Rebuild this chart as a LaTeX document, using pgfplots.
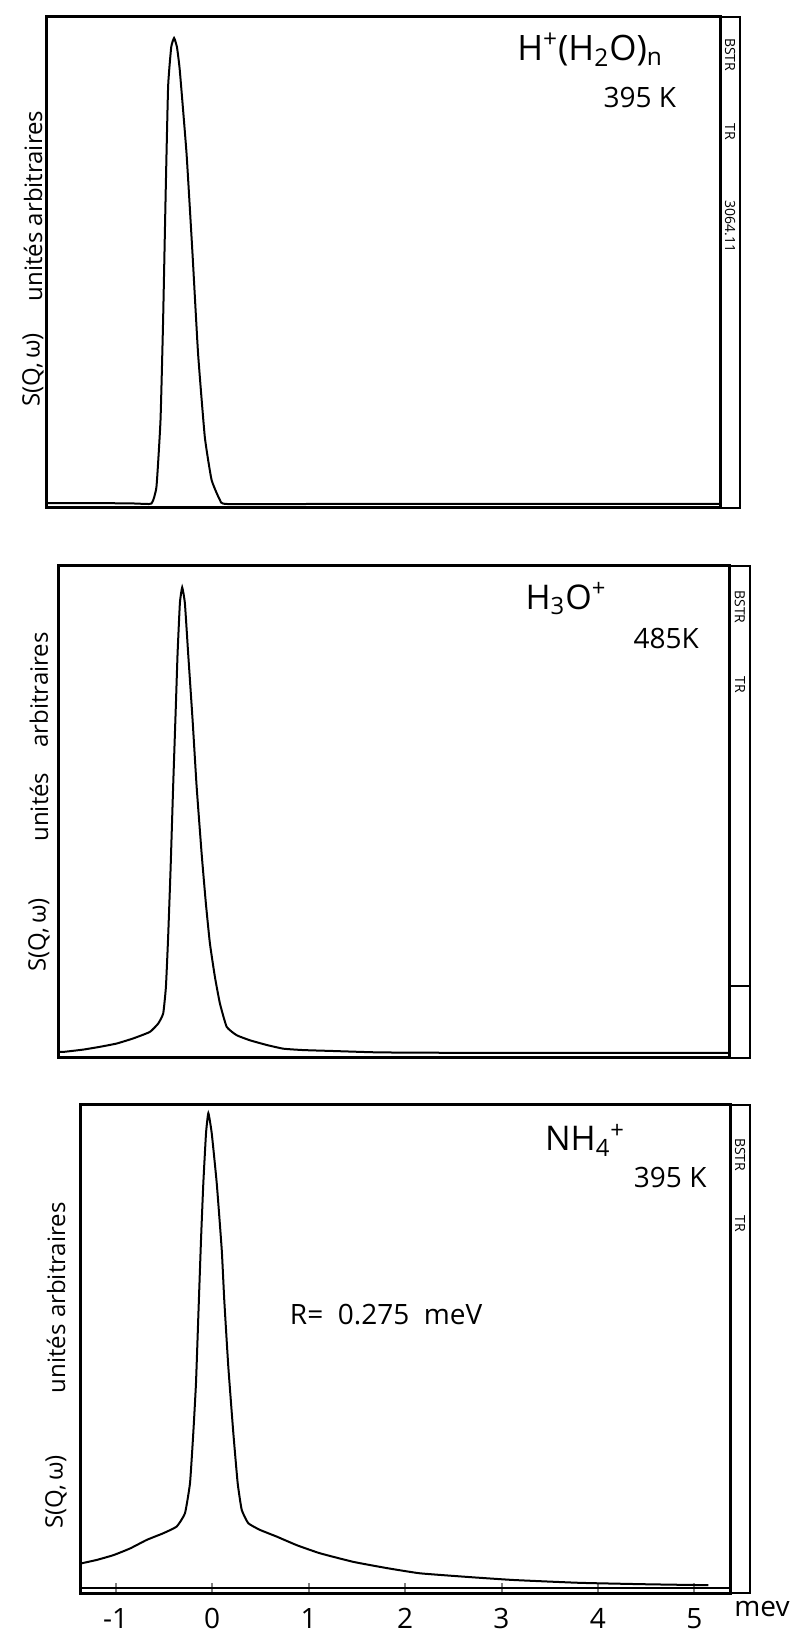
\documentclass[border=0pt]{standalone}
\usepackage{fontspec}
\setmainfont{Open Sans}
\usepackage{pgfplots}
\pgfplotsset{compat=1.18}

% 1 px of the scan = 0.5pt
\pgfplotsset{
  panel/.style={
    scale only axis, anchor=south west, clip=false,
    axis line style={line width=1.5pt},
    xtick=\empty, ytick=\empty,
  },
  trace/.style={black, line width=1pt, no markers, smooth, tension=0.25},
}
\newcommand{\strip}[1]{%
  \draw[line width=1pt] (rel axis cs:1,0) -- ([xshift=10pt]rel axis cs:1,0)
    -- ([xshift=10pt]rel axis cs:1,1) -- (rel axis cs:1,1);}

\begin{document}
\begin{tikzpicture}
\useasboundingbox (0,0) rectangle (394.5pt,817pt);

% ---- H+(H2O)n, 395 K
\begin{axis}[panel, at={(23.5pt,563pt)}, width=336.5pt, height=245.5pt,
    xmin=-1.32, xmax=5.67, ymin=-0.86, ymax=104.5]
\addplot[trace] coordinates {
 (-1.32,0.2) (-0.8,0.2) (-0.4,0.1) (-0.235,0.1) (-0.183,3.7) (-0.141,18)
 (-0.114,39.5) (-0.086,68.1) (-0.062,89.6) (-0.03,98) (0,100) (0.03,98)
 (0.059,93.1) (0.129,75.3) (0.191,53.8) (0.249,32.3) (0.319,14.4)
 (0.389,5.2) (0.475,0.9) (0.545,0) (1.5,0) (3,0) (5.67,0)
};
\strip{}
\node[font=\fontsize{17.5}{19}\selectfont] at (rel axis cs:0.807,0.933)
  {H\textsuperscript{+}(H\textsubscript{2}O)\textsubscript{n}};
\node[font=\fontsize{14}{16}\selectfont] at (rel axis cs:0.881,0.837) {395 K};
\node[rotate=90, font=\fontsize{12}{14}\selectfont] at ([xshift=-7pt]rel axis cs:0,0.615) {unités arbitraires};
\node[rotate=90, font=\fontsize{12}{14}\selectfont] at ([xshift=-7pt]rel axis cs:0,0.281) {S(Q,\,ω)};
\node[rotate=-90, font=\fontsize{7}{8}\selectfont] at ([xshift=5pt]rel axis cs:1,0.923) {BSTR};
\node[rotate=-90, font=\fontsize{7}{8}\selectfont] at ([xshift=5pt]rel axis cs:1,0.766) {TR};
\node[rotate=-90, font=\fontsize{7}{8}\selectfont] at ([xshift=5pt]rel axis cs:1,0.574) {3064.11};
\end{axis}

% ---- H3O+, 485 K
\begin{axis}[panel, at={(29pt,288pt)}, width=336pt, height=246pt,
    xmin=-1.29, xmax=5.69, ymin=-1.1, ymax=104.6]
\addplot[trace] coordinates {
 (-1.29,0.2) (-1.237,0.2) (-1.029,0.7) (-0.855,1.3) (-0.682,2.0) (-0.509,3.1)
 (-0.336,4.5) (-0.249,6.3) (-0.197,8.5) (-0.169,14.2) (-0.146,24.9)
 (-0.121,39.3) (-0.094,57.2) (-0.065,75.1) (-0.048,85.8) (-0.024,96.6)
 (0,100) (0.028,96.6) (0.062,85.8) (0.108,71.5) (0.150,57.2) (0.202,42.8)
 (0.246,32.1) (0.288,23.5) (0.340,16.3) (0.392,10.6) (0.462,5.6)
 (0.565,3.8) (0.704,2.7) (0.877,1.7) (1.050,0.9) (1.258,0.6) (1.570,0.4)
 (2.055,0.1) (3,0) (4.5,0) (5.69,0)
};
\strip{}
\draw[line width=1pt] (rel axis cs:1,0.147) -- ([xshift=10pt]rel axis cs:1,0.147);
\node[font=\fontsize{17}{19}\selectfont] at (rel axis cs:0.756,0.933)
  {H\textsubscript{3}O\textsuperscript{+}};
\node[font=\fontsize{14}{16}\selectfont] at (rel axis cs:0.905,0.852) {485K};
\node[rotate=90, font=\fontsize{12}{14}\selectfont] at ([xshift=-9.5pt]rel axis cs:0,0.748) {arbitraires};
\node[rotate=90, font=\fontsize{12}{14}\selectfont] at ([xshift=-9.5pt]rel axis cs:0,0.510) {unités};
\node[rotate=90, font=\fontsize{12}{14}\selectfont] at ([xshift=-9.5pt]rel axis cs:0,0.250) {S(Q,\,ω)};
\node[rotate=-90, font=\fontsize{7}{8}\selectfont] at ([xshift=5pt]rel axis cs:1,0.917) {BSTR};
\node[rotate=-90, font=\fontsize{7}{8}\selectfont] at ([xshift=5pt]rel axis cs:1,0.758) {TR};
\end{axis}

% ---- NH4+, 395 K
\begin{axis}[panel, at={(40pt,20.5pt)}, width=325pt, height=244pt,
    xmin=-1.368, xmax=5.368, ymin=-0.63, ymax=101.7,
    xtick={-1,0,1,2,3,4,5}, xtick pos=lower, tick align=inside,
    major tick length=5pt, tick style={line width=1pt},
    /pgf/number format/assume math mode=true,
    xticklabel style={font=\fontsize{14}{16}\selectfont, yshift=-4pt}]
\addplot[black, line width=0.8pt, no markers] coordinates {(-1.368,0.36) (5.368,0.36)};
\addplot[trace] coordinates {
 (-1.368,5.4) (-1.350,5.6) (-1.195,6.3) (-1.023,7.3) (-0.850,8.7)
 (-0.677,10.5) (-0.505,11.9) (-0.366,13.3) (-0.280,16.1) (-0.228,22.4)
 (-0.194,32.9) (-0.166,43.4) (-0.142,57.3) (-0.114,73.4) (-0.090,85.3)
 (-0.062,95.8) (-0.038,100) (-0.003,95.8) (0.049,85.3) (0.101,71.3)
 (0.127,60.8) (0.169,46.8) (0.221,32.9) (0.266,22.4) (0.308,16.8)
 (0.376,14.0) (0.497,12.6) (0.670,11.2) (0.878,9.4) (1.119,7.7)
 (1.464,5.9) (1.810,4.6) (2.155,3.5) (2.674,2.7) (3.122,2.1)
 (3.813,1.5) (4.505,1.2) (5.143,1.0)
};
\strip{}
\node[font=\fontsize{17}{19}\selectfont] at (rel axis cs:0.777,0.928)
  {NH\textsubscript{4}\textsuperscript{+}};
\node[font=\fontsize{14}{16}\selectfont] at (rel axis cs:0.908,0.852) {395 K};
\node[font=\fontsize{14}{16}\selectfont] at (rel axis cs:0.471,0.570) {R= \ 0.275 \ meV};
\node[rotate=90, font=\fontsize{12}{14}\selectfont] at ([xshift=-12pt]rel axis cs:0,0.605) {unités arbitraires};
\node[rotate=90, font=\fontsize{12}{14}\selectfont] at ([xshift=-12pt]rel axis cs:0,0.207) {S(Q,\,ω)};
\node[font=\fontsize{14}{16}\selectfont] at ([xshift=16pt,yshift=-8pt]rel axis cs:1,0) {mev};
\node[rotate=-90, font=\fontsize{7}{8}\selectfont] at ([xshift=5pt]rel axis cs:1,0.898) {BSTR};
\node[rotate=-90, font=\fontsize{7}{8}\selectfont] at ([xshift=5pt]rel axis cs:1,0.756) {TR};
\end{axis}
\end{tikzpicture}
\end{document}
